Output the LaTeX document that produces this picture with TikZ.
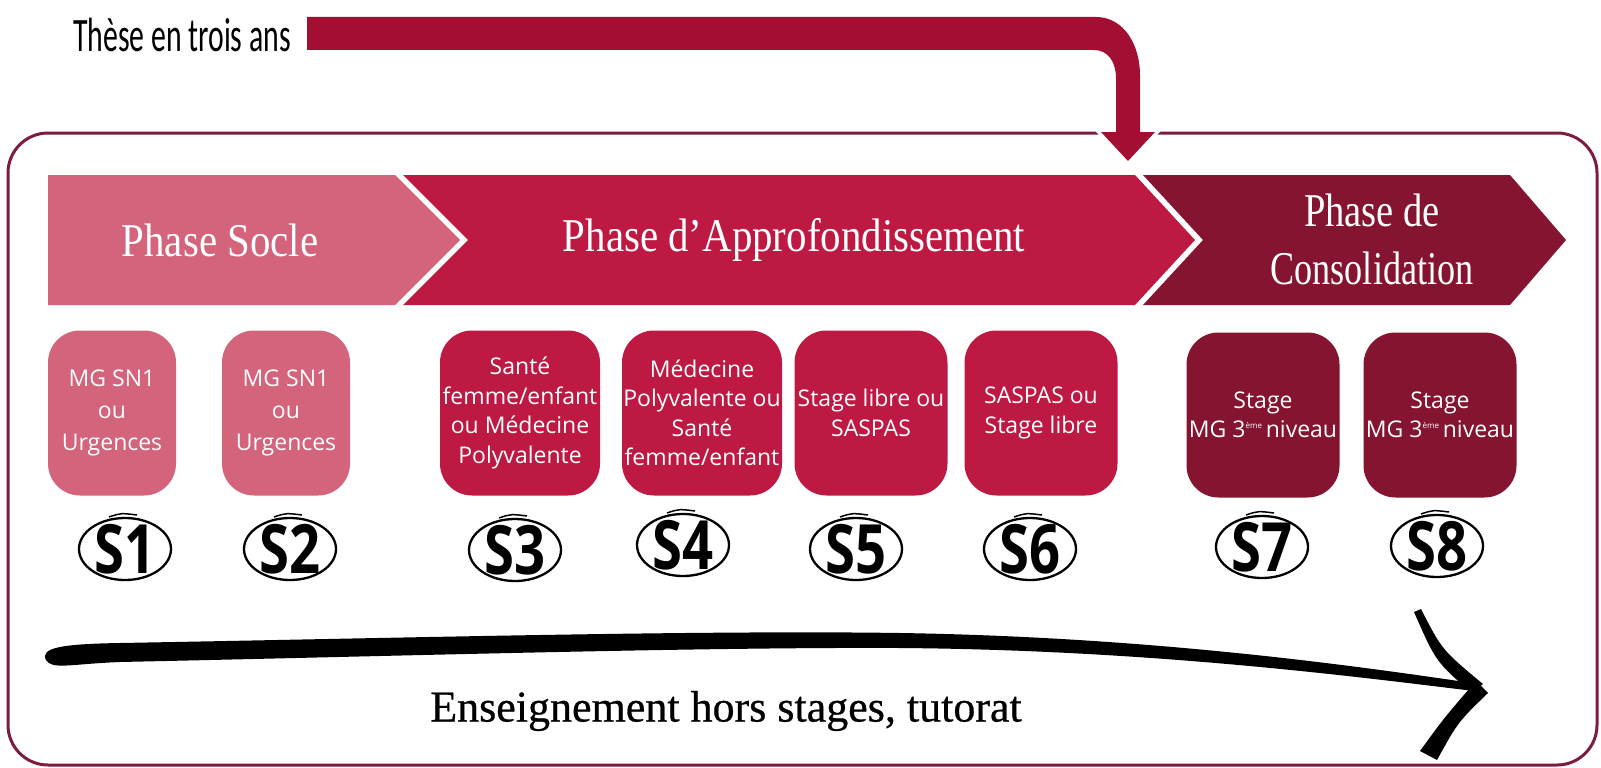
\documentclass[tikz,border=0pt]{standalone}
\usepackage{fontspec}
\setmainfont{Liberation Serif}
\newfontfamily\carl{Carlito}
\newfontfamily\osans{Open Sans}
\newfontfamily\semib[FakeBold=0.6]{Liberation Serif}
\usepackage{graphicx}
\usetikzlibrary{calc}
\definecolor{pinkc}{HTML}{D3647B}
\definecolor{crim}{HTML}{BD1942}
\definecolor{darkc}{HTML}{84142F}
\definecolor{arrc}{HTML}{A30F33}
\definecolor{framec}{HTML}{7D1D3C}
\newcommand\sx[2]{\scalebox{#1}[1]{#2}}
\newcommand\eme{\raisebox{9pt}{\fontsize{8}{8}\selectfont ème}\,}
\begin{document}
\begin{tikzpicture}[x=1pt,y=-1pt,
  stagebox/.style={draw=none, rounded corners=32pt, minimum height=165pt,
    text=white, font=\osans\fontsize{23}{29.5}\selectfont, align=center, inner sep=0pt},
  phasetxt/.style={text=white, font=\fontsize{47}{58}\selectfont, align=center, inner sep=0pt},
  slabel/.style={font=\osans\bfseries\fontsize{68}{68}\selectfont, inner sep=0pt},
  ring/.style={line width=2.3pt, black},
  tick/.style={line width=1.5pt, black}]
\useasboundingbox (0,0) rectangle (1601,768);
% frame
\draw[framec, line width=3pt, rounded corners=40pt] (8,133) rectangle (1597,765);
% top arrow
\path[draw=white, line width=7pt, line join=miter]
  (1116,132) -- (1101,132) -- (1128,161) -- (1155,132) -- (1140,132);
\fill[arrc] (307,17) -- (1096,17) .. controls (1124,17) and (1140,45) .. (1140,75)
  -- (1140,132) -- (1155,132) -- (1128,161) -- (1101,132) -- (1116,132)
  -- (1116,78) .. controls (1116,62) and (1108,50) .. (1094,50) -- (307,50) -- cycle;
\node[anchor=west, inner sep=0pt, font=\carl\fontsize{48}{48}\selectfont] (these) at (73,35) {\sx{0.62}{Thèse en trois ans}};
% chevrons
\fill[pinkc] (48,175) -- (395,175) -- (460,240) -- (395,305) -- (48,305) -- cycle;
\fill[crim] (403,175) -- (1135,175) -- (1195,240) -- (1135,305) -- (403,305) -- (468,240) -- cycle;
\fill[darkc] (1143,175) -- (1510,175) -- (1566,240) -- (1510,305) -- (1143,305) -- (1203,240) -- cycle;
\node[phasetxt] (p1) at (220,240) {\sx{0.87}{Phase Socle}};
\node[phasetxt] (p2) at (794,240) {\sx{0.87}{Phase d’Approfondissement}};
\node[phasetxt] (p3) at (1372,239) {\sx{0.82}{Phase de}\\\sx{0.77}{Consolidation}};
% stage boxes
\node[stagebox, fill=pinkc, minimum width=128pt, font=\osans\fontsize{23}{32}\selectfont] (b1) at (112,413) {MG SN1\\ou\\Urgences};
\node[stagebox, fill=pinkc, minimum width=128pt, font=\osans\fontsize{23}{32}\selectfont] (b2) at (286,413) {MG SN1\\ou\\Urgences};
\node[stagebox, fill=crim, minimum width=160pt] (b3) at (520,413) {Santé\\femme/enfant\\ou Médecine\\Polyvalente};
\node[stagebox, fill=crim, minimum width=160pt] (b4) at (702,413) {Médecine\\Polyvalente ou\\Santé\\femme/enfant};
\node[stagebox, fill=crim, minimum width=153pt] (b5) at (871,413) {Stage libre ou\\SASPAS};
\node[stagebox, fill=crim, minimum width=153pt] (b6) at (1041,413) {SASPAS ou\\Stage libre};
\node[stagebox, fill=darkc, minimum width=153pt] (b7) at (1263,415) {Stage\\MG 3\eme niveau};
\node[stagebox, fill=darkc, minimum width=153pt] (b8) at (1440,415) {Stage\\MG 3\eme niveau};
% semester labels
\foreach \n/\x/\y in {1/125/549, 2/290/549, 3/515/550, 4/683/545, 5/856/549, 6/1030/549, 7/1262/547, 8/1437/546}{
  \node[slabel] (s\n) at (\x,\y) {\sx{0.8}{S\n}};
  \draw[ring] (s\n) ellipse (46 and 31);
  \draw[tick] ($(s\n)+(-16,-32)$) .. controls ($(s\n)+(-4,-36)$) .. ($(s\n)+(12,-34)$);
}
% brush arrow
\fill[black] (46,660) .. controls (40,648) and (60,644) .. (120,643)
  .. controls (400,638) and (700,630) .. (900,633)
  .. controls (1150,637) and (1350,665) .. (1472,683) -- (1474,691)
  .. controls (1350,676) and (1150,650) .. (900,648)
  .. controls (700,647) and (400,656) .. (120,662)
  .. controls (70,664) and (52,670) .. (46,660) -- cycle;
\fill[black] (1414,612) -- (1421,609) .. controls (1442,650) .. (1483,684) -- (1472,693)
  .. controls (1436,662) .. (1414,612) -- cycle;
\fill[black] (1476,681) -- (1488,693) .. controls (1458,722) .. (1437,760) -- (1420,751)
  .. controls (1444,718) .. (1476,681) -- cycle;
\node[font=\semib\fontsize{44}{44}\selectfont, inner sep=0pt] (ens) at (726,711) {Enseignement hors stages, tutorat};
\end{tikzpicture}
\end{document}
